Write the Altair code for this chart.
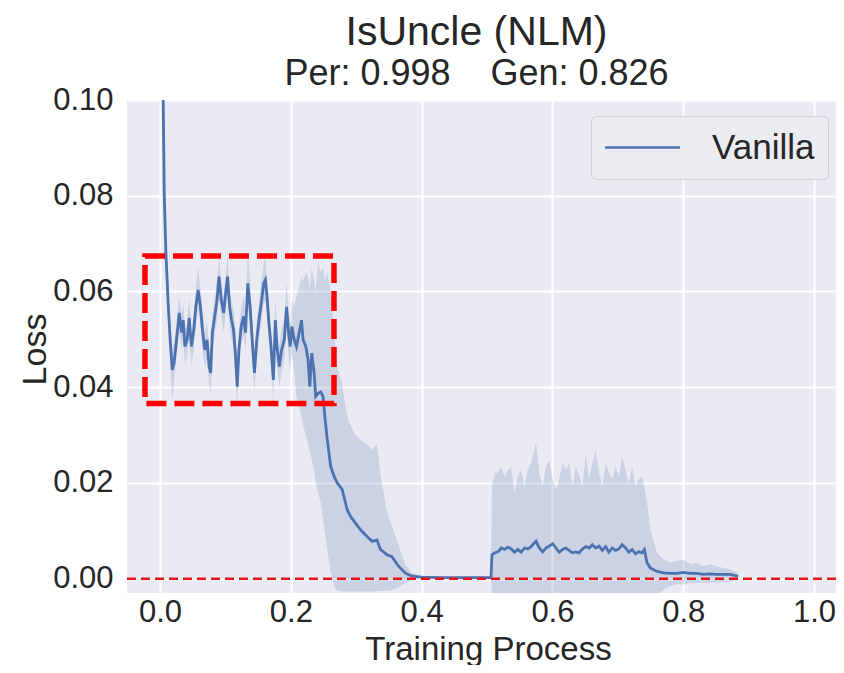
import altair as alt
import pandas as pd

# ---------------- data ----------------
progress = [
    0.0000, 0.0040, 0.0065, 0.0090, 0.0127, 0.0155, 0.0187, 0.0215, 0.0253, 0.0294,
    0.0330, 0.0355, 0.0380, 0.0415, 0.0446, 0.0480, 0.0517, 0.0547, 0.0583, 0.0618,
    0.0649, 0.0684, 0.0720, 0.0750, 0.0775, 0.0800, 0.0836, 0.0871, 0.0902, 0.0937,
    0.0973, 0.1003, 0.1033, 0.1064, 0.1094, 0.1125, 0.1155, 0.1180, 0.1206, 0.1241,
    0.1277, 0.1307, 0.1342, 0.1378, 0.1409, 0.1444, 0.1479, 0.1520, 0.1555, 0.1585,
    0.1611, 0.1636, 0.1661, 0.1697, 0.1733, 0.1763, 0.1788, 0.1824, 0.1859, 0.1900,
    0.1935, 0.1966, 0.1991, 0.2016, 0.2052, 0.2087, 0.2128, 0.2163, 0.2188, 0.2229,
    0.2264, 0.2290, 0.2320, 0.2356, 0.2381, 0.2416, 0.2457, 0.2492, 0.2523, 0.2558,
    0.2609, 0.2660, 0.2710, 0.2786, 0.2862, 0.2913, 0.2989, 0.3065, 0.3166, 0.3242,
    0.3318, 0.3369, 0.3470, 0.3546, 0.3647, 0.3749, 0.3850, 0.4000, 0.4300, 0.4700,
    0.5060,
    0.5076, 0.5120, 0.5167, 0.5218, 0.5268, 0.5319, 0.5370, 0.5420, 0.5471, 0.5522,
    0.5572, 0.5623, 0.5674, 0.5750, 0.5800, 0.5850, 0.5900, 0.5952, 0.6003, 0.6054,
    0.6104, 0.6155, 0.6206, 0.6256, 0.6307, 0.6358, 0.6408, 0.6459, 0.6510, 0.6561,
    0.6611, 0.6662, 0.6713, 0.6763, 0.6814, 0.6864, 0.6915, 0.6966, 0.7016, 0.7067,
    0.7118, 0.7168, 0.7219, 0.7270, 0.7320, 0.7371, 0.7406, 0.7447, 0.7498, 0.7600,
    0.7701, 0.7802, 0.7903, 0.8004, 0.8106, 0.8207, 0.8308, 0.8409, 0.8510, 0.8612,
    0.8713, 0.8840,
]

loss_mean = [
    0.2500, 0.1100, 0.0800, 0.0680, 0.0568, 0.0499, 0.0436, 0.0451, 0.0499, 0.0555,
    0.0514, 0.0540, 0.0485, 0.0499, 0.0545, 0.0485, 0.0520, 0.0568, 0.0603, 0.0568,
    0.0520, 0.0478, 0.0499, 0.0443, 0.0430, 0.0514, 0.0548, 0.0582, 0.0631, 0.0582,
    0.0555, 0.0596, 0.0631, 0.0568, 0.0540, 0.0520, 0.0464, 0.0401, 0.0478, 0.0527,
    0.0548, 0.0514, 0.0617, 0.0568, 0.0499, 0.0430, 0.0499, 0.0548, 0.0582, 0.0617,
    0.0624, 0.0590, 0.0540, 0.0485, 0.0415, 0.0540, 0.0485, 0.0443, 0.0478, 0.0499,
    0.0568, 0.0514, 0.0485, 0.0527, 0.0499, 0.0485, 0.0514, 0.0540, 0.0499, 0.0485,
    0.0457, 0.0401, 0.0471, 0.0430, 0.0381, 0.0387, 0.0390, 0.0381, 0.0335, 0.0290,
    0.0235, 0.0214, 0.0200, 0.0186, 0.0144, 0.0130, 0.0116, 0.0102, 0.0088, 0.0078,
    0.0081, 0.0061, 0.0050, 0.0046, 0.0026, 0.0012, 0.0005, 0.0003, 0.0002, 0.0002,
    0.0002,
    0.0050, 0.0054, 0.0056, 0.0064, 0.0061, 0.0066, 0.0062, 0.0055, 0.0061, 0.0055,
    0.0064, 0.0062, 0.0067, 0.0078, 0.0064, 0.0056, 0.0064, 0.0068, 0.0073, 0.0064,
    0.0055, 0.0061, 0.0064, 0.0059, 0.0054, 0.0056, 0.0054, 0.0062, 0.0067, 0.0064,
    0.0071, 0.0064, 0.0068, 0.0059, 0.0067, 0.0055, 0.0064, 0.0059, 0.0062, 0.0071,
    0.0064, 0.0055, 0.0061, 0.0052, 0.0056, 0.0054, 0.0061, 0.0033, 0.0022, 0.0015,
    0.0012, 0.0011, 0.0011, 0.0013, 0.0011, 0.0011, 0.0009, 0.0010, 0.0009, 0.0009,
    0.0009, 0.0005,
]

loss_low = [
    0.2400, 0.1000, 0.0740, 0.0640, 0.0530, 0.0455, 0.0370, 0.0410, 0.0465, 0.0515,
    0.0480, 0.0505, 0.0450, 0.0465, 0.0510, 0.0445, 0.0485, 0.0530, 0.0560, 0.0530,
    0.0480, 0.0440, 0.0460, 0.0405, 0.0385, 0.0475, 0.0510, 0.0540, 0.0585, 0.0545,
    0.0515, 0.0555, 0.0590, 0.0530, 0.0500, 0.0480, 0.0420, 0.0360, 0.0440, 0.0490,
    0.0510, 0.0475, 0.0570, 0.0530, 0.0460, 0.0390, 0.0460, 0.0510, 0.0540, 0.0575,
    0.0580, 0.0550, 0.0500, 0.0445, 0.0370, 0.0500, 0.0445, 0.0400, 0.0435, 0.0455,
    0.0520, 0.0465, 0.0435, 0.0470, 0.0430, 0.0380, 0.0360, 0.0340, 0.0320, 0.0300,
    0.0280, 0.0265, 0.0250, 0.0225, 0.0200, 0.0180, 0.0160, 0.0125, 0.0095, 0.0060,
    0.0015, -0.0015, -0.0025, -0.0027, -0.0027, -0.0027, -0.0027, -0.0027, -0.0027, -0.0027,
    -0.0026, -0.0026, -0.0025, -0.0024, -0.0018, -0.0009, -0.0003, -0.0001, -0.0001, -0.0001,
    -0.0001,
    -0.0035, -0.0035, -0.0035, -0.0035, -0.0035, -0.0035, -0.0035, -0.0035, -0.0035, -0.0035,
    -0.0035, -0.0035, -0.0035, -0.0035, -0.0035, -0.0035, -0.0035, -0.0035, -0.0035, -0.0035,
    -0.0035, -0.0035, -0.0035, -0.0035, -0.0035, -0.0035, -0.0035, -0.0035, -0.0035, -0.0035,
    -0.0035, -0.0035, -0.0035, -0.0035, -0.0035, -0.0035, -0.0035, -0.0035, -0.0035, -0.0035,
    -0.0035, -0.0035, -0.0035, -0.0035, -0.0035, -0.0035, -0.0035, -0.0035, -0.0035, -0.0033,
    -0.0023, -0.0016, -0.0011, -0.0013, -0.0009, -0.0009, -0.0009, -0.0009, -0.0008, -0.0008,
    -0.0006, -0.0002,
]

loss_high = [
    0.2600, 0.1200, 0.0860, 0.0720, 0.0605, 0.0540, 0.0480, 0.0495, 0.0535, 0.0590,
    0.0550, 0.0575, 0.0520, 0.0535, 0.0585, 0.0520, 0.0555, 0.0605, 0.0650, 0.0605,
    0.0560, 0.0515, 0.0535, 0.0480, 0.0470, 0.0550, 0.0585, 0.0625, 0.0670, 0.0620,
    0.0590, 0.0635, 0.0675, 0.0605, 0.0580, 0.0560, 0.0505, 0.0445, 0.0515, 0.0565,
    0.0590, 0.0555, 0.0690, 0.0610, 0.0540, 0.0470, 0.0540, 0.0590, 0.0625, 0.0660,
    0.0670, 0.0630, 0.0580, 0.0525, 0.0460, 0.0585, 0.0525, 0.0485, 0.0520, 0.0545,
    0.0620, 0.0560, 0.0535, 0.0580, 0.0570, 0.0590, 0.0610, 0.0630, 0.0620, 0.0640,
    0.0630, 0.0600, 0.0650, 0.0620, 0.0600, 0.0660, 0.0640, 0.0650, 0.0620, 0.0640,
    0.0600, 0.0520, 0.0440, 0.0405, 0.0340, 0.0320, 0.0300, 0.0290, 0.0280, 0.0270,
    0.0280, 0.0220, 0.0140, 0.0110, 0.0070, 0.0030, 0.0012, 0.0006, 0.0005, 0.0005,
    0.0005,
    0.0193, 0.0221, 0.0221, 0.0234, 0.0213, 0.0227, 0.0234, 0.0180, 0.0213, 0.0227,
    0.0193, 0.0227, 0.0242, 0.0284, 0.0221, 0.0193, 0.0234, 0.0248, 0.0209, 0.0186,
    0.0207, 0.0242, 0.0227, 0.0242, 0.0193, 0.0234, 0.0216, 0.0193, 0.0262, 0.0207,
    0.0242, 0.0269, 0.0221, 0.0193, 0.0242, 0.0221, 0.0207, 0.0234, 0.0213, 0.0255,
    0.0227, 0.0200, 0.0234, 0.0193, 0.0207, 0.0213, 0.0193, 0.0158, 0.0102, 0.0054,
    0.0040, 0.0033, 0.0037, 0.0040, 0.0030, 0.0033, 0.0026, 0.0030, 0.0026, 0.0022,
    0.0020, 0.0012,
]

series_name = ["Vanilla"]
x_ticks = [0.0, 0.2, 0.4, 0.6, 0.8, 1.0]
y_ticks = [0.00, 0.02, 0.04, 0.06, 0.08, 0.10]

# highlighted region (red dashed box) and reference level
box_x = [-0.023, 0.266]
box_y = [0.0366, 0.0674]
ref_level = [0.0]

# ---------------- tables ----------------
df = pd.DataFrame({
    "x": progress,
    "mean": loss_mean,
    "lo": loss_low,
    "hi": loss_high,
    "run": series_name[0],
})
box_df = pd.DataFrame({"x1": [box_x[0]], "x2": [box_x[1]], "y1": [box_y[0]], "y2": [box_y[1]]})
ref_df = pd.DataFrame({"y": ref_level})

FONT = "Liberation Sans"
TXT = "#262626"
BLUE = "#4c72b0"

xs = alt.Scale(domain=[-0.0505, 1.0336], nice=False, zero=False)
ys = alt.Scale(domain=[-0.003, 0.1], nice=False, zero=False)

x_axis = alt.Axis(
    values=x_ticks, format=".1f", title="Training Process",
    labelFontSize=31, labelPadding=4, labelColor=TXT, labelFont=FONT,
    ticks=False, tickSize=0, domain=False,
    grid=True, gridColor="white", gridWidth=2,
    titleFontSize=33, titleFont=FONT, titleColor=TXT, titleFontWeight="normal",
    titleX=361, titleY=66, titleBaseline="alphabetic", titleAlign="center",
)
y_axis = alt.Axis(
    values=y_ticks, format=".2f", title="Loss",
    labelFontSize=31, labelPadding=14, labelColor=TXT, labelFont=FONT,
    ticks=False, tickSize=0, domain=False,
    grid=True, gridColor="white", gridWidth=2,
    titleFontSize=34, titleFont=FONT, titleColor=TXT, titleFontWeight="normal",
    titleX=-82, titleY=249, titleAngle=270, titleBaseline="alphabetic", titleAlign="center",
)

band = alt.Chart(df).mark_area(color=BLUE, opacity=0.2, clip=True).encode(
    x=alt.X("x:Q", scale=xs, axis=x_axis),
    y=alt.Y("lo:Q", scale=ys, axis=y_axis),
    y2="hi:Q",
)

line = alt.Chart(df).mark_line(strokeWidth=2.8, clip=True).encode(
    x=alt.X("x:Q", scale=xs, axis=x_axis),
    y=alt.Y("mean:Q", scale=ys, axis=y_axis),
    color=alt.Color(
        "run:N",
        scale=alt.Scale(domain=series_name, range=[BLUE]),
        legend=alt.Legend(
            orient="none", legendX=464, legendY=16, title=None,
            labelFontSize=35, labelFont=FONT, labelColor=TXT,
            symbolType="M-2.2,0L2.2,0", symbolSize=1156, symbolStrokeWidth=2.5,
            symbolOffset=20, labelOffset=51, padding=13,
            fillColor="#ececf3", strokeColor="#d0d0d8", cornerRadius=5,
        ),
    ),
)

ref = alt.Chart(ref_df).mark_rule(color="#e8141c", strokeWidth=2.5, strokeDash=[9, 5]).encode(
    y=alt.Y("y:Q", scale=ys, axis=y_axis),
)

box = alt.Chart(box_df).mark_rect(
    filled=False, stroke="#ff0000", strokeWidth=5.5, strokeDash=[20, 8]
).encode(
    x=alt.X("x1:Q", scale=xs, axis=x_axis),
    x2="x2:Q",
    y=alt.Y("y1:Q", scale=ys, axis=y_axis),
    y2="y2:Q",
)

chart = alt.layer(band, line, ref, box).properties(
    width=709,
    height=493,
    title=alt.TitleParams(
        text="IsUncle (NLM)",
        subtitle="Per: 0.998\u00a0\u00a0\u00a0\u00a0Gen: 0.826",
        anchor="middle", frame="group", dx=-5, offset=-9,
        font=FONT, fontSize=41, fontWeight="normal", color=TXT,
        subtitleFont=FONT, subtitleFontSize=36, subtitleColor=TXT,
        subtitlePadding=3,
    ),
    autosize=alt.AutoSizeParams(type="none"),
    padding={"left": 119, "top": 92, "right": 0, "bottom": 72},
).configure_view(fill="#eaeaf2", stroke=None)

chart.save("out.html", embed_options={"renderer": "svg", "actions": False})
